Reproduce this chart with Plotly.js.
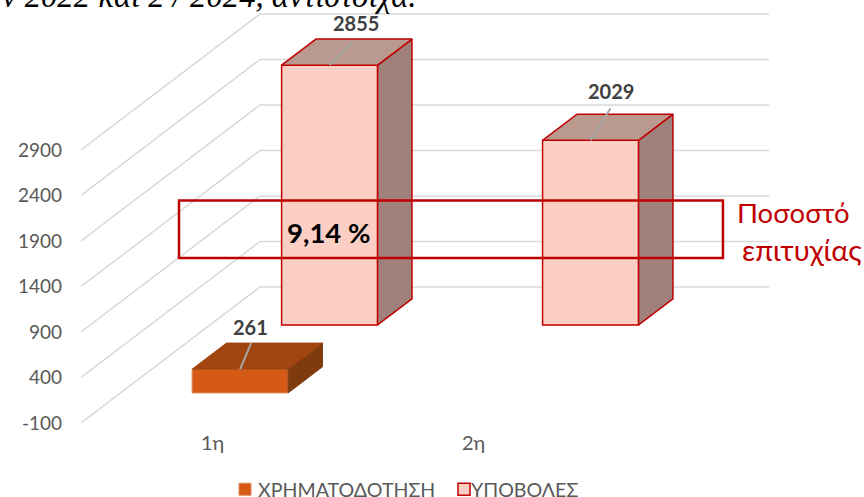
<!DOCTYPE html>
<html><head><meta charset="utf-8">
<script src="https://cdn.plot.ly/plotly-3.0.1.min.js"></script>
<style>html,body{margin:0;padding:0;background:#fff;overflow:hidden}#c{width:864px;height:497px}</style>
</head><body><div id="c"></div>
<script>
const categories = ['1η', '2η'];
const funding = [261, null];
const submissions = [2855, 2029];
const valueTicks = [-100, 400, 900, 1400, 1900, 2400, 2900];
const seriesNames = ['ΧΡΗΜΑΤΟΔΟΤΗΣΗ', 'ΥΠΟΒΟΛΕΣ'];

// oblique projection used for the 3-D look
const W = 864, H = 497, pxPerCat = 261, pxPerVal = 0.091;
const shearX = 179 / pxPerCat, shearY = 136 / pxPerVal;
const barW = 96 / pxPerCat;
const depth = [[0.154, 0.346], [0.654, 0.846]];
const xL = -0.504, xR = 2.132;
const plotBottom = 432;
const yRange = [(413.9 - plotBottom) / pxPerVal, 413.9 / pxPerVal];
const xRange = [xL, (W - 212.5) / pxPerCat];
const FONT = 'Lato, "Open Sans", sans-serif';

const styles = [
  {front: '#d55a16', side: '#7f3b0e', top: '#a1440f', edge: '#e08a5c', lw: 1, sideEdge: '#7f3b0e', topEdge: '#a1440f'},
  {front: '#fbcfc4', side: '#9f807a', top: '#ba9a8f', edge: '#c00000', lw: 1.5, sideEdge: '#c00000', topEdge: '#c00000'}
];
const labelOffset = [[[10, -42]], [[26, -42], [20, -49]]];
const leaderEnd = [[[11, -26]], [[23, -23], [20, -32]]];

const traces = [], annotations = [];
const px = (x, y) => [xRange[0] + (x - 81) / pxPerCat, (413.9 - y) / pxPerVal];

[funding, submissions].forEach((vals, s) => {
  const [d0, d1] = depth[s], st = styles[s];
  const idx = vals.map((v, i) => i).filter(i => vals[i] !== null);
  idx.forEach(i => {
    const v = vals[i], l = i - barW / 2, r = i + barW / 2;
    const P = (x, d, val) => [x + d * shearX, val + d * shearY];
    const poly = pts => ({x: pts.map(p => p[0]), y: pts.map(p => p[1])});
    // side face
    traces.push({type: 'scatter', mode: 'lines', fill: 'toself', fillcolor: st.side, showlegend: false, hoverinfo: 'skip',
      line: {color: st.sideEdge, width: st.lw},
      ...poly([P(r, d0, 0), P(r, d1, 0), P(r, d1, v), P(r, d0, v), P(r, d0, 0)])});
    // top face
    traces.push({type: 'scatter', mode: 'lines', fill: 'toself', fillcolor: st.top, showlegend: false, hoverinfo: 'skip',
      line: {color: st.topEdge, width: st.lw},
      ...poly([P(l, d0, v), P(r, d0, v), P(r, d1, v), P(l, d1, v), P(l, d0, v)])});
    // leader line
    const fc = P(i, d0, v), dv = leaderEnd[s][idx.indexOf(i)];
    traces.push({type: 'scatter', mode: 'lines', showlegend: false, hoverinfo: 'skip',
      line: {color: '#a6a6a6', width: 2},
      x: [fc[0], fc[0] + dv[0] / pxPerCat], y: [fc[1], fc[1] - dv[1] / pxPerVal]});
    // value label
    const lo = labelOffset[s][idx.indexOf(i)];
    annotations.push({x: fc[0], y: fc[1], xref: 'x', yref: 'y', text: '<b>' + v + '</b>', showarrow: false,
      xshift: lo[0], yshift: -lo[1], xanchor: 'center', yanchor: 'middle',
      font: {family: FONT, size: 20, color: '#404040'}});
  });
  // front faces: real bars, pushed back by the series' depth
  traces.push({type: 'bar', name: seriesNames[s],
    x: idx.map(i => i + d0 * shearX), y: idx.map(i => vals[i]),
    base: idx.map(() => d0 * shearY), width: barW,
    marker: {color: st.front, line: {color: st.edge, width: st.lw}}, hoverinfo: 'skip'});
});

const shapes = [];
valueTicks.forEach(v => {
  shapes.push({type: 'path', layer: 'below', xref: 'x', yref: 'y',
    path: `M${xL},${v}L${xL + shearX},${v + shearY}L${xR},${v + shearY}`,
    line: {color: '#d9d9d9', width: 1.5}});
});
// call-out rectangle drawn over the chart
const a = px(179, 200.5), b = px(723, 258);
shapes.push({type: 'rect', layer: 'above', xref: 'x', yref: 'y', x0: a[0], y0: a[1], x1: b[0], y1: b[1],
  fillcolor: 'rgba(0,0,0,0)', line: {color: '#c00000', width: 2.5}});

const note = (x, y, text, font, anchor) => {
  const p = px(x, y);
  annotations.push({x: p[0], y: p[1], xref: 'x', yref: 'y', text, showarrow: false, xanchor: anchor || 'left', yanchor: 'middle', font});
};
note(329, 232, '<b>9,14 %</b>', {family: FONT, size: 27.5, color: '#000'}, 'center');
note(735, 212, 'Ποσοστό', {family: FONT, size: 27.5, color: '#c00000'});
note(740, 249, 'επιτυχίας', {family: FONT, size: 29, color: '#c00000'});
annotations.push({xref: 'paper', yref: 'paper', x: -81 / (W - 81), y: 1, xanchor: 'left', yanchor: 'middle', yshift: 4, showarrow: false,
  text: '<i>ν 2022 και 2 / 2024, αντίστοιχα.</i>', font: {family: '"Liberation Serif", serif', size: 32.7, color: '#000'}});

const layout = {
  width: W, height: H, paper_bgcolor: '#fff', plot_bgcolor: '#fff', showlegend: true,
  margin: {l: 81, r: 0, t: 0, b: H - plotBottom, pad: 0, autoexpand: false},
  barmode: 'overlay', font: {family: FONT},
  xaxis: {range: xRange, tickmode: 'array', tickvals: categories.map((c, i) => i), ticktext: categories,
    showgrid: false, zeroline: false, showline: false, ticks: '', ticklabelstandoff: -3, tickfont: {size: 20, color: '#595959', family: FONT}},
  yaxis: {range: yRange, tickmode: 'array', tickvals: valueTicks, ticktext: valueTicks.map(String),
    showgrid: false, zeroline: false, showline: false, ticks: '', ticklabelstandoff: 18, tickfont: {size: 19, color: '#595959', family: FONT}},
  legend: {orientation: 'h', x: (218 - 81) / (W - 81), xanchor: 'left', y: -(470 - plotBottom) / plotBottom, yanchor: 'top',
    entrywidthmode: 'pixels', entrywidth: 168,
    font: {size: 19.6, color: '#595959', family: FONT}, bgcolor: 'rgba(0,0,0,0)'},
  shapes, annotations
};
const swatchNudge = [7, 13];
Plotly.newPlot('c', traces, layout, {displayModeBar: false, staticPlot: true}).then(() => {
  document.querySelectorAll('#c .legend .traces .legendsymbols').forEach((g, i) => {
    g.setAttribute('transform', `translate(${swatchNudge[i] || 0},0)`);
  });
});
</script></body></html>
